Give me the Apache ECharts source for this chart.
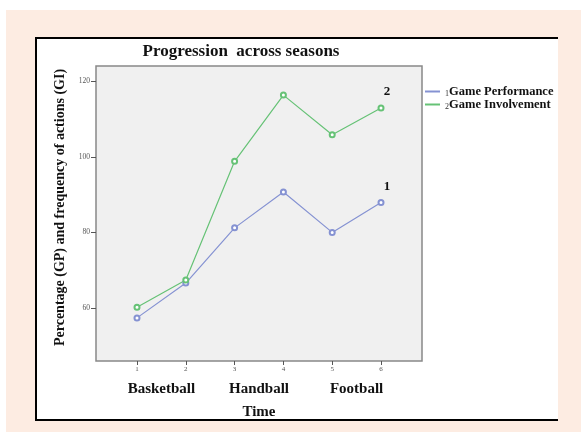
<!DOCTYPE html>
<html>
<head>
<meta charset="utf-8">
<script src="https://cdn.jsdelivr.net/npm/echarts@6/dist/echarts.min.js"></script>
<style>
  html, body { margin: 0; padding: 0; background: #fff; }
  #main { width: 581px; height: 442px; }
</style>
</head>
<body>
<div id="main"></div>
<script>
var chart = echarts.init(document.getElementById('main'));

// data
var timePoints = [1, 2, 3, 4, 5, 6];
var sports = ['Basketball', 'Handball', 'Football'];
var sportPos = [1.5, 3.5, 5.5];
var gpValues = [57.4, 66.6, 81.2, 90.7, 80.0, 87.9];
var giValues = [60.2, 67.4, 98.8, 116.3, 105.8, 112.9];
var yTicks = [60, 80, 100, 120];

var serif = 'Liberation Serif';

function toPairs(vals, tag) {
    return vals.map(function (v, i) {
        var item = { value: [timePoints[i], v] };
        if (i === vals.length - 1) {
            item.label = {
                show: true, formatter: tag, position: 'top', offset: [6, -1],
                fontFamily: serif, fontWeight: 'bold', fontSize: 13, color: '#111'
            };
        }
        return item;
    });
}

var option = {
    animation: false,
    backgroundColor: '#fff',
    graphic: [
        { type: 'rect', z: -10, shape: { x: 6, y: 10, width: 575, height: 422 }, style: { fill: '#fdece2' } },
        { type: 'rect', z: -9, shape: { x: 35, y: 37, width: 523, height: 384 }, style: { fill: '#fff' } },
        { type: 'polyline', z: -8, shape: { points: [[558, 38], [36, 38], [36, 420], [558, 420]] },
          style: { stroke: '#000', lineWidth: 2, fill: null } }
    ],
    title: {
        text: 'Progression  across seasons',
        left: 236, top: 38, textAlign: 'center',
        textStyle: { fontFamily: serif, fontWeight: 'bold', fontSize: 17, color: '#111' }
    },
    legend: {
        orient: 'vertical',
        left: 420, top: 80,
        itemGap: 0,
        itemWidth: 15, itemHeight: 2,
        icon: 'rect',
        data: ['Game Performance', 'Game Involvement'],
        formatter: function (name) {
            var n = name === 'Game Performance' ? '1' : '2';
            return '{n|' + n + '}{t|' + name + '}';
        },
        textStyle: {
            rich: {
                n: { fontFamily: serif, fontSize: 8, color: '#333', padding: [4, 0, 0, 0] },
                t: { fontFamily: serif, fontWeight: 'bold', fontSize: 12.5, color: '#111', lineHeight: 12 }
            }
        }
    },
    grid: {
        left: 96, right: 159, top: 66, bottom: 81,
        show: true, backgroundColor: '#f0f0f0', borderColor: '#888', borderWidth: 1.5
    },
    xAxis: [{
        type: 'value', min: 0.16, max: 6.84,
        name: 'Time', nameLocation: 'middle', nameGap: 44,
        nameTextStyle: { fontFamily: serif, fontWeight: 'bold', fontSize: 15, color: '#111' },
        splitLine: { show: false },
        axisLine: { show: false },
        axisTick: { show: true, length: 4, customValues: timePoints, lineStyle: { color: '#555' } },
        axisLabel: { customValues: timePoints, fontSize: 7, color: '#555', margin: 5, fontFamily: serif }
    }, {
        type: 'value', min: 0.16, max: 6.84, position: 'bottom',
        splitLine: { show: false },
        axisLine: { show: false },
        axisTick: { show: false },
        axisLabel: {
            customValues: sportPos, margin: 21,
            fontFamily: serif, fontWeight: 'bold', fontSize: 15, color: '#111',
            formatter: function (v) { return sports[sportPos.indexOf(v)] || ''; }
        }
    }],
    yAxis: {
        type: 'value', min: 46, max: 124,
        name: 'Percentage (GP) and frequency of actions (GI)',
        nameLocation: 'middle', nameGap: 29,
        nameTextStyle: { fontFamily: serif, fontWeight: 'bold', fontSize: 14, color: '#111', padding: [0, 0, 0, 12] },
        splitLine: { show: false },
        axisLine: { show: false },
        axisTick: { show: true, length: 5, customValues: yTicks, lineStyle: { color: '#555' } },
        axisLabel: { customValues: yTicks, fontSize: 7.5, color: '#555', margin: 6, fontFamily: serif }
    },
    series: [{
        name: 'Game Performance', type: 'line', xAxisIndex: 0,
        symbol: 'emptyCircle', symbolSize: 5,
        lineStyle: { width: 1.2, color: '#8592d2' },
        itemStyle: { color: '#8592d2', borderWidth: 1.2 },
        data: toPairs(gpValues, '1')
    }, {
        name: 'Game Involvement', type: 'line', xAxisIndex: 0,
        symbol: 'emptyCircle', symbolSize: 5,
        lineStyle: { width: 1.2, color: '#66c276' },
        itemStyle: { color: '#66c276', borderWidth: 1.2 },
        data: toPairs(giValues, '2')
    }]
};

chart.setOption(option);
</script>
</body>
</html>
